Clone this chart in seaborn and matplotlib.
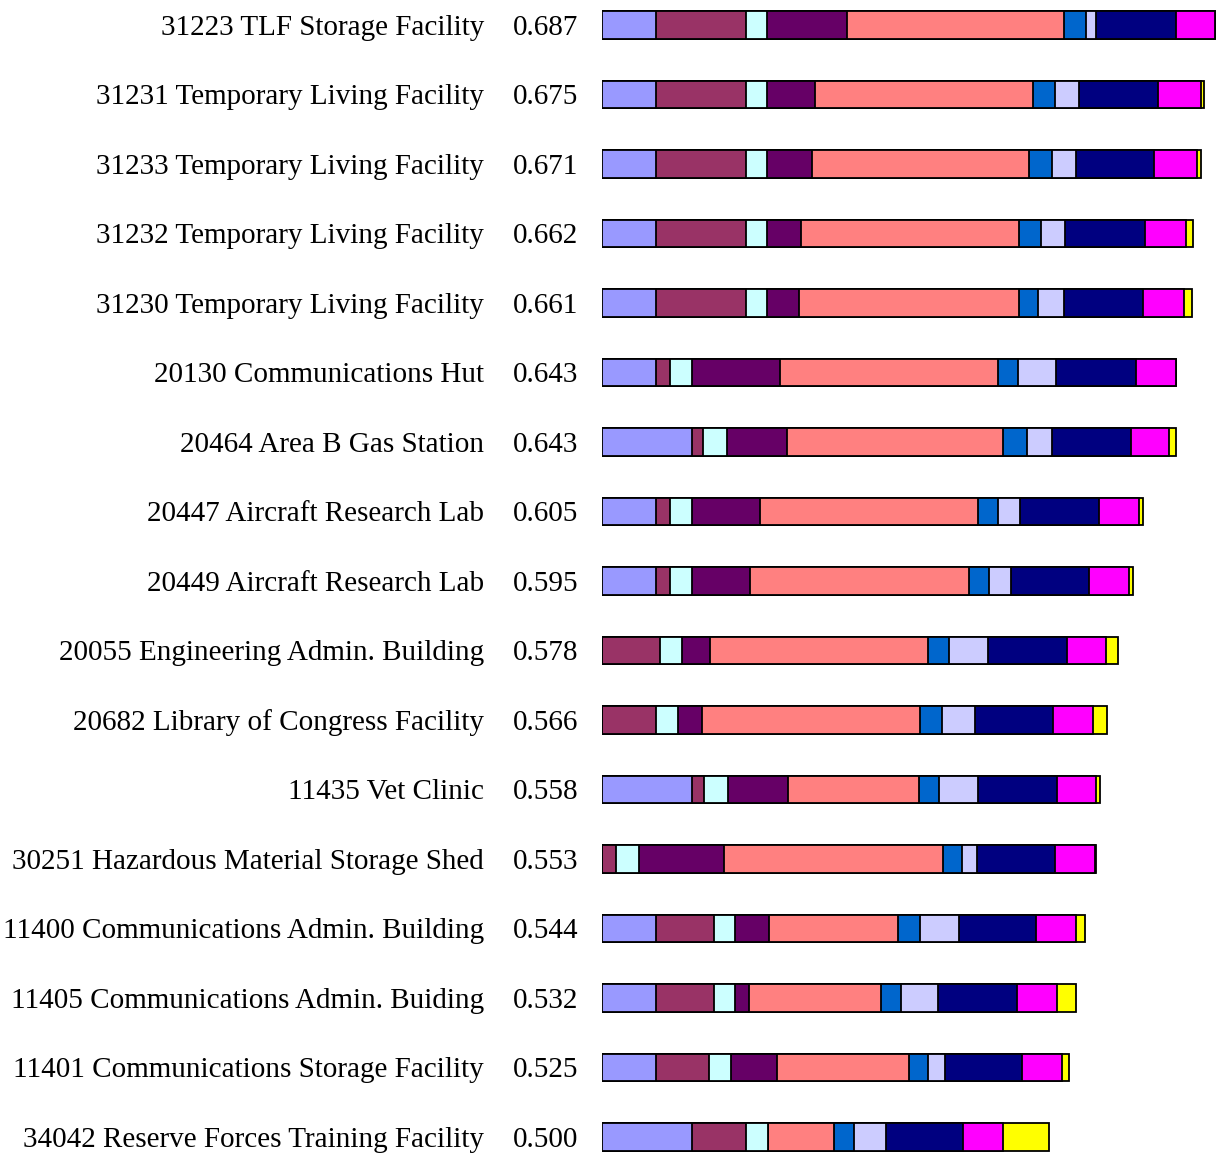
import numpy as np
import pandas as pd
import seaborn as sns
import matplotlib.pyplot as plt
import matplotlib.transforms as mtransforms

# facility names and overall scores (top to bottom)
facilities = [
    "31223 TLF Storage Facility",
    "31231 Temporary Living Facility",
    "31233 Temporary Living Facility",
    "31232 Temporary Living Facility",
    "31230 Temporary Living Facility",
    "20130 Communications Hut",
    "20464 Area B Gas Station",
    "20447 Aircraft Research Lab",
    "20449 Aircraft Research Lab",
    "20055 Engineering Admin. Building",
    "20682 Library of Congress Facility",
    "11435 Vet Clinic",
    "30251 Hazardous Material Storage Shed",
    "11400 Communications Admin. Building",
    "11405 Communications Admin. Buiding",
    "11401 Communications Storage Facility",
    "34042 Reserve Forces Training Facility",
]
scores = [0.687, 0.675, 0.671, 0.662, 0.661, 0.643, 0.643, 0.605, 0.595,
          0.578, 0.566, 0.558, 0.553, 0.544, 0.532, 0.525, 0.500]

# weighted contribution of each criterion (segment order left to right)
seg1 = [0.060, 0.060, 0.060, 0.060, 0.060, 0.060, 0.101, 0.060, 0.060, 0.000, 0.000, 0.101, 0.000, 0.060, 0.060, 0.060, 0.101]
seg2 = [0.101, 0.101, 0.101, 0.101, 0.101, 0.016, 0.012, 0.016, 0.016, 0.065, 0.060, 0.013, 0.016, 0.066, 0.066, 0.060, 0.060]
seg3 = [0.024, 0.024, 0.024, 0.024, 0.024, 0.025, 0.027, 0.025, 0.025, 0.025, 0.025, 0.027, 0.025, 0.023, 0.023, 0.025, 0.025]
seg4 = [0.090, 0.054, 0.050, 0.038, 0.036, 0.098, 0.067, 0.076, 0.065, 0.031, 0.027, 0.067, 0.096, 0.038, 0.016, 0.051, 0.000]
seg5 = [0.243, 0.244, 0.244, 0.244, 0.246, 0.245, 0.243, 0.245, 0.245, 0.245, 0.244, 0.147, 0.245, 0.145, 0.148, 0.148, 0.074]
seg6 = [0.025, 0.025, 0.025, 0.025, 0.022, 0.022, 0.026, 0.022, 0.023, 0.023, 0.025, 0.023, 0.022, 0.025, 0.022, 0.022, 0.022]
seg7 = [0.011, 0.027, 0.027, 0.027, 0.029, 0.043, 0.028, 0.025, 0.024, 0.044, 0.037, 0.044, 0.016, 0.043, 0.042, 0.018, 0.036]
seg8 = [0.089, 0.088, 0.088, 0.090, 0.088, 0.090, 0.089, 0.088, 0.088, 0.088, 0.088, 0.088, 0.088, 0.087, 0.088, 0.087, 0.087]
seg9 = [0.044, 0.048, 0.048, 0.046, 0.046, 0.044, 0.043, 0.045, 0.045, 0.044, 0.044, 0.044, 0.045, 0.044, 0.045, 0.045, 0.044]
seg10 = [0.000, 0.004, 0.004, 0.007, 0.009, 0.000, 0.007, 0.004, 0.004, 0.013, 0.016, 0.004, 0.001, 0.011, 0.021, 0.008, 0.052]

colors = ["#9999FF", "#993366", "#CCFFFF", "#660066", "#FF8080",
          "#0066CC", "#CCCCFF", "#000080", "#FF00FF", "#FFFF00"]

segments = [seg1, seg2, seg3, seg4, seg5, seg6, seg7, seg8, seg9, seg10]
df = pd.DataFrame({f"s{i}": s for i, s in enumerate(segments)})
df["facility"] = facilities
cum = df[[f"s{i}" for i in range(10)]].cumsum(axis=1)

sns.set_style("white")
fig = plt.figure(figsize=(12.21, 11.56), dpi=100)
ax = fig.add_axes([602 / 1221, 0, 1 - 602 / 1221, 1])

# draw cumulative bars from longest to shortest so they stack
for i in range(9, -1, -1):
    sns.barplot(x=cum[f"s{i}"].values, y=df["facility"], orient="h",
                color=colors[i], edgecolor="black", linewidth=1.3,
                width=0.4, saturation=1, ax=ax)

px_per_row = (1137 - 25) / 16
ax.set_xlim(0, (1221 - 602) / 892)
ax.set_ylim(16 + (1156 - 1137) / px_per_row, -25 / px_per_row)
ax.set_axis_off()

trans = mtransforms.blended_transform_factory(fig.transFigure, ax.transData)
for k, (name, sc) in enumerate(zip(facilities, scores)):
    ax.text(484 / 1221, k + 0.04, name, transform=trans, ha="right", va="center",
            fontsize=21, family="Liberation Serif", color="black")
    ax.text(513 / 1221, k + 0.04, f"{sc:.3f}", transform=trans, ha="left", va="center",
            fontsize=21, family="Liberation Serif", color="black")

fig.savefig("out.png", dpi=100)
